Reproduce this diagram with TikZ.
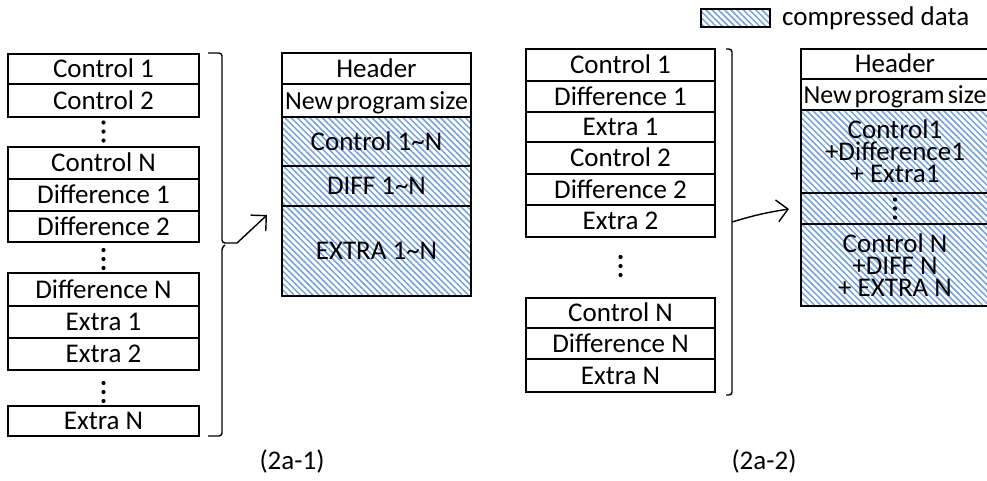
\documentclass[tikz,border=0pt]{standalone}
\usepackage{fontspec}
\setmainfont{Carlito}
\usetikzlibrary{patterns.meta,arrows.meta}
\definecolor{hatchblue}{RGB}{115,160,218}
\begin{document}
\begin{tikzpicture}[x=1pt,y=-1pt,
  cell/.style={draw,line width=1.2pt,inner sep=0pt,align=center,
    font=\fontsize{27}{22}\selectfont,text height=17pt,text depth=0pt},
  multi/.style={text height=,text depth=},
  hatch/.style={pattern={Lines[angle=-45,distance=4.4pt,line width=1.5pt]},pattern color=hatchblue},
  colA/.style={minimum width=191pt},
  colB/.style={minimum width=189pt},
  colC/.style={minimum width=189pt},
  colD/.style={minimum width=188pt},
  dotfill/.style={fill=black},
  brace/.style={line width=1.4pt,rounded corners=3pt},
  link/.style={line width=1.4pt,-{Straight Barb[length=11pt,width=22pt,line width=1.4pt]}},
  caption/.style={font=\fontsize{27}{30}\selectfont,inner sep=0pt},
  tight/.style={font=\fontsize{26}{22}\selectfont}
]
\useasboundingbox (0,0) rectangle (987,480);

% ---------- legend ----------
\node[draw,line width=1.2pt,hatch,minimum width=69pt,minimum height=18pt,inner sep=0pt] (legbox) at (735.5,18) {};
\node[anchor=base west,inner sep=0pt,font=\fontsize{27}{30}\selectfont] (legtext) at (782,25) {compressed data};

% ---------- (2a-1) left column ----------
\node[cell,colA,minimum height=30pt] (a1) at (103.5,69) {Control 1};
\node[cell,colA,minimum height=33pt] (a2) at (103.5,100.5) {Control 2};
\coordinate (ad1) at (103.5,131.5);
\node[cell,colA,minimum height=32pt] (a3) at (103.5,163) {Control N};
\node[cell,colA,minimum height=32pt] (a4) at (103.5,195) {Difference 1};
\node[cell,colA,minimum height=31pt] (a5) at (103.5,226.5) {Difference 2};
\coordinate (ad2) at (103.5,259);
\node[cell,colA,minimum height=33pt] (a6) at (103.5,289.5) {Difference N};
\node[cell,colA,minimum height=32pt] (a7) at (103.5,322) {Extra 1};
\node[cell,colA,minimum height=32pt] (a8) at (103.5,354) {Extra 2};
\coordinate (ad3) at (103.5,392);
\node[cell,colA,minimum height=30pt] (a9) at (103.5,421) {Extra N};

% brace 1
\draw[brace] (208,53) -- (222,53) -- (222,243) -- (237,243);
\draw[brace] (225,245) -- (222,247) -- (222,436) -- (208,436);
\coordinate (b1tip) at (237,243);
\coordinate (b1end) at (267,215);
\draw[link] (b1tip) -- (b1end);

% ---------- (2a-1) right box ----------
\node[cell,colB,minimum height=31pt] (b1) at (376.5,68.5) {Header};
\node[cell,colB,minimum height=33pt,tight] (b2) at (376.5,100.5) {\spaceskip=3pt\relax New program size};
\node[cell,colB,hatch,minimum height=49pt] (b3) at (376.5,141.5) {Control 1\textasciitilde N};
\node[cell,colB,hatch,minimum height=40pt] (b4) at (376.5,186) {DIFF 1\textasciitilde N};
\node[cell,colB,hatch,minimum height=90pt] (b5) at (376.5,251) {EXTRA 1\textasciitilde N};

% ---------- (2a-2) left column ----------
\node[cell,colC,minimum height=32pt] (c1) at (620.5,65) {Control 1};
\node[cell,colC,minimum height=31pt] (c2) at (620.5,96.5) {Difference 1};
\node[cell,colC,minimum height=30pt] (c3) at (620.5,127) {Extra 1};
\node[cell,colC,minimum height=32pt] (c4) at (620.5,158) {Control 2};
\node[cell,colC,minimum height=31pt] (c5) at (620.5,189.5) {Difference 2};
\node[cell,colC,minimum height=32pt] (c6) at (620.5,221) {Extra 2};
\coordinate (cd1) at (620.5,266);
\node[cell,colC,minimum height=30pt] (c7) at (620.5,313) {Control N};
\node[cell,colC,minimum height=31pt] (c8) at (620.5,343.5) {Difference N};
\node[cell,colC,minimum height=33pt] (c9) at (620.5,375.5) {Extra N};

% brace 2
\draw[brace] (726,49) -- (732,49) -- (732,395) -- (726,395);
\coordinate (b2tip) at (732,222);
\coordinate (b2end) at (789,209);
\draw[link] (b2tip) to[bend left=4] (b2end);

% ---------- (2a-2) right box ----------
\node[cell,colD,minimum height=30pt] (d1) at (895,64) {Header};
\node[cell,colD,minimum height=31pt,tight] (d2) at (895,94.5) {\spaceskip=3pt\relax New program size};
\node[cell,colD,hatch,multi,minimum height=83pt] (d3) at (895,151.5) {Control1\\+Difference1\\+ Extra1};
\node[cell,colD,hatch,minimum height=31pt] (d4) at (895,208.5) {};
\node[cell,colD,hatch,multi,minimum height=82pt] (d5) at (895,265) {Control N\\+DIFF N\\+ EXTRA N};

% ---------- vertical ellipses ----------
\foreach \p in {ad1,ad2,ad3,cd1,d4}{
  \fill[dotfill] (\p) ++(0,-9) circle (2.1pt);
  \fill[dotfill] (\p) circle (2.1pt);
  \fill[dotfill] (\p) ++(0,9) circle (2.1pt);
}

% ---------- captions ----------
\node[caption] (cap1) at (292,461) {(2a-1)};
\node[caption] (cap2) at (764,461) {(2a-2)};
\end{tikzpicture}
\end{document}
